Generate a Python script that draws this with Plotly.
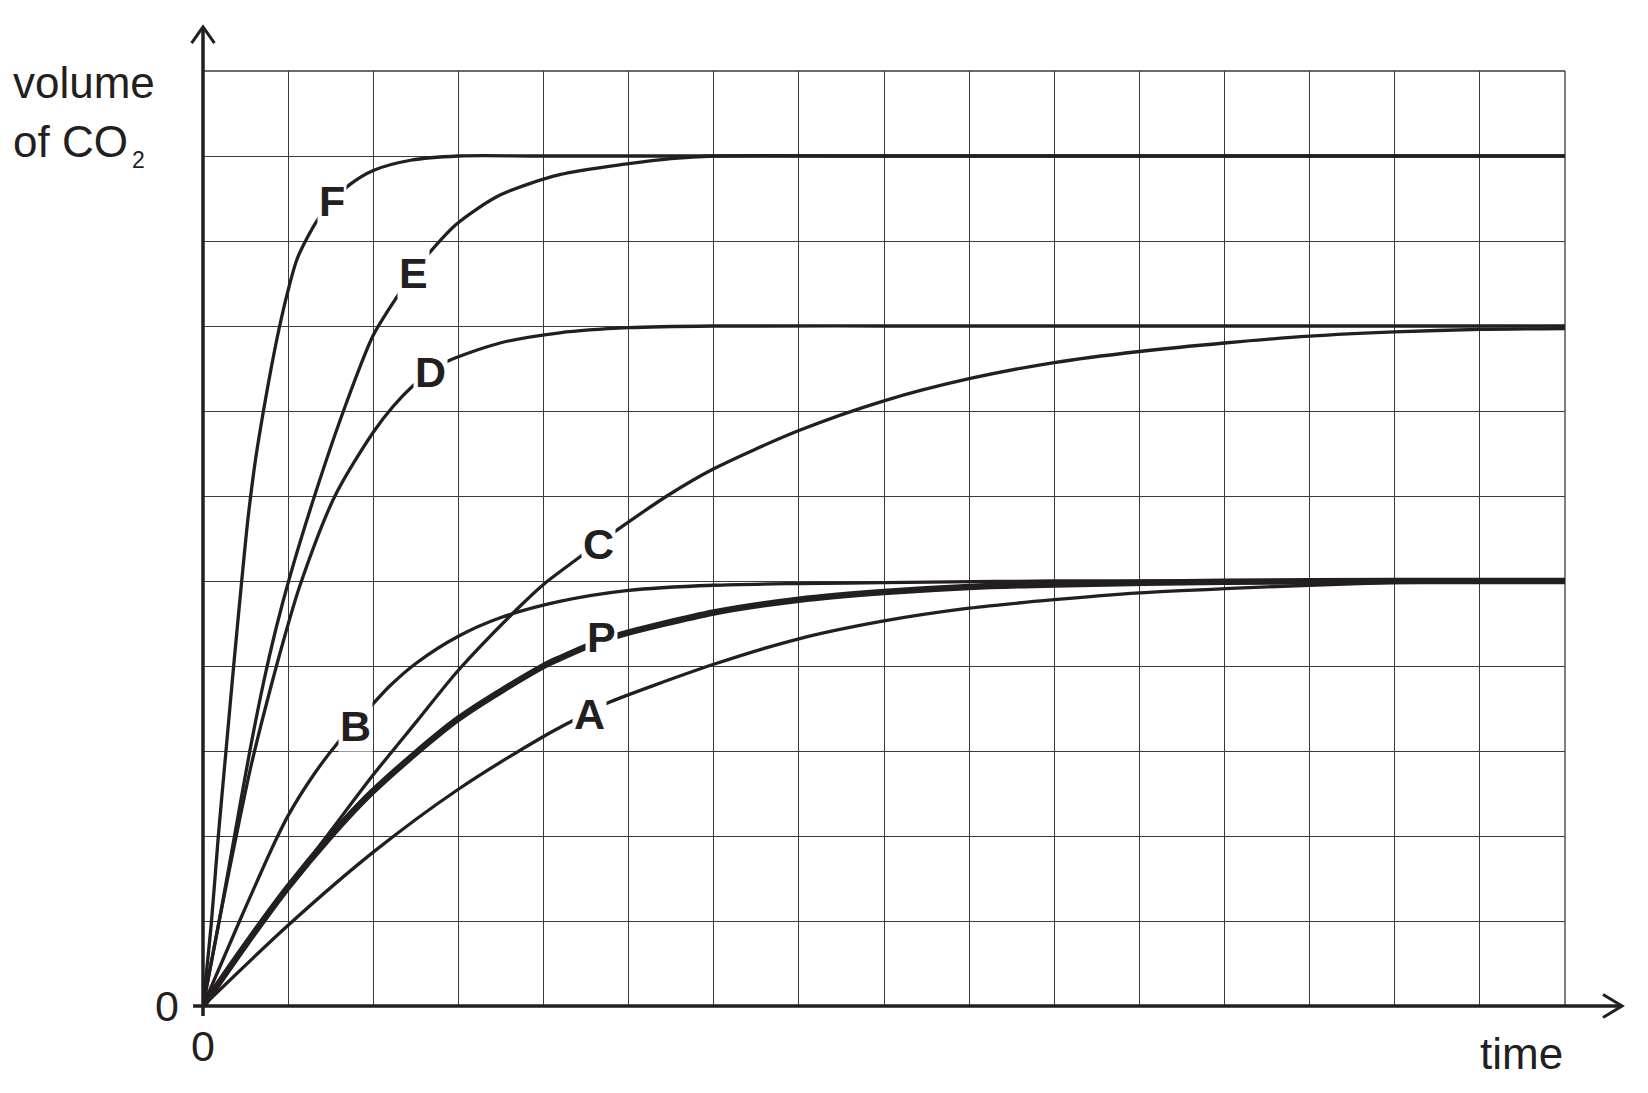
"""
plot.py
=======

Volume of CO2 against time for reactions A-F compared with the reference
reaction P. Every curve is read off the worksheet grid (1 unit = 1 square).
"""

import plotly.graph_objects as go

# ---- curve data (grid squares) -------------------------------------------
f_time = [0, 0.10, 0.18, 0.27, 0.36, 0.45, 0.53, 0.62, 0.71, 0.80, 0.89, 0.99,
          1.11, 1.34, 1.51, 1.72, 2.0, 2.44, 3.0, 4.0, 8.0, 16.0]
f_vol = [0, 1, 2, 3, 4, 4.95, 5.75, 6.45, 7.0, 7.5, 7.95, 8.38,
         8.8, 9.24, 9.45, 9.66, 9.83, 9.95, 10.0, 10.0, 10.0, 10.0]

e_time = [0, 0.19, 0.37, 0.55, 0.71, 0.86, 1.02, 1.31, 1.65, 2.0, 2.29, 2.47,
          2.65, 2.98, 3.49, 4.19, 5.0, 5.5, 6.0, 8.0, 16.0]
e_vol = [0, 1, 2, 3, 3.8, 4.45, 5.05, 6.0, 7.0, 7.89, 8.36, 8.62,
         8.85, 9.2, 9.54, 9.78, 9.91, 9.97, 10.0, 10.0, 10.0]

d_time = [0, 0.19, 0.38, 0.57, 0.77, 0.96, 1.14, 1.55, 2.0, 2.23, 2.47, 2.67,
          2.86, 3.49, 4.19, 5.0, 6.0, 8.0, 16.0]
d_vol = [0, 1, 1.95, 2.85, 3.65, 4.35, 4.95, 6.0, 6.75, 7.05, 7.3, 7.46,
         7.58, 7.8, 7.92, 7.98, 8.0, 8.0, 8.0]

c_time = [0, 0.5, 1.0, 1.5, 2.0, 2.52, 3.0, 3.70, 4.0, 4.41, 4.65, 4.82, 5.45,
          6.0, 7.0, 8.0, 9.0, 10.0, 11.0, 12.0, 13.0, 14.0, 15.0, 16.0]
c_vol = [0, 0.72, 1.40, 2.06, 2.72, 3.36, 3.95, 4.68, 4.96, 5.27, 5.45, 5.57, 6.0,
         6.32, 6.77, 7.12, 7.38, 7.57, 7.70, 7.80, 7.88, 7.93, 7.96, 7.97]

b_time = [0, 0.43, 0.84, 1.0, 1.3, 1.57, 1.79, 1.93, 2.2, 2.5, 3.0, 3.5, 4.19,
          5.0, 6.0, 7.0, 8.0, 10.0, 16.0]
b_vol = [0, 1.0, 1.92, 2.24, 2.72, 3.08, 3.32, 3.48, 3.77, 4.03, 4.35, 4.57, 4.76,
         4.89, 4.95, 4.97, 4.98, 5.0, 5.0]

p_time = [0, 0.5, 1.0, 1.5, 2.0, 3.0, 4.0, 4.19, 4.68, 4.91, 6.0, 7.0, 8.0,
          9.0, 10.0, 12.0, 14.0, 16.0]
p_vol = [0, 0.72, 1.40, 2.0, 2.53, 3.38, 4.0, 4.09, 4.30, 4.37, 4.63, 4.78, 4.87,
         4.93, 4.96, 4.99, 5.0, 5.0]

a_time = [0, 1.0, 2.0, 3.0, 4.0, 4.33, 4.54, 4.74, 6.0, 7.0, 8.0, 9.0, 10.0,
          11.0, 12.0, 13.0, 14.0, 16.0]
a_vol = [0, 0.95, 1.81, 2.55, 3.17, 3.35, 3.46, 3.56, 4.02, 4.32, 4.53, 4.68, 4.78,
         4.86, 4.91, 4.95, 4.98, 5.0]

# where each letter sits on its curve
label_names = ["F", "E", "D", "C", "B", "P", "A"]
label_time = [1.51, 2.47, 2.67, 4.65, 1.79, 4.68, 4.54]
label_vol = [9.47, 8.62, 7.46, 5.43, 3.30, 4.34, 3.44]

# axis ticks: one square per unit, only the origin is labelled
time_ticks = list(range(0, 17))
vol_ticks = list(range(0, 12))
time_ticktext = ["0"] + [""] * 16
vol_ticktext = ["0"] + [""] * 11

INK = "#231f20"
GRID = "#3a3a3a"
FONT = "Liberation Sans, Arial, sans-serif"

fig = go.Figure()

curves = [
    (a_time, a_vol, 3.3),
    (b_time, b_vol, 3.3),
    (c_time, c_vol, 3.3),
    (d_time, d_vol, 3.3),
    (e_time, e_vol, 3.3),
    (f_time, f_vol, 3.3),
    (p_time, p_vol, 6.5),  # reference reaction drawn heavier
]
for t, v, w in curves:
    fig.add_trace(
        go.Scatter(
            x=t,
            y=v,
            mode="lines",
            line=dict(color=INK, width=w, shape="spline", smoothing=0.8),
            hoverinfo="skip",
            showlegend=False,
        )
    )

# curve letters, white box so the line breaks round them
for name, t, v in zip(label_names, label_time, label_vol):
    fig.add_annotation(
        x=t, y=v, xref="x", yref="y", text=f"<b>{name}</b>", showarrow=False,
        font=dict(family=FONT, size=43, color=INK),
        bgcolor="white", borderpad=1,
    )

# axis titles
title_font = dict(family=FONT, size=44, color=INK)
fig.add_annotation(x=-0.141, y=0.9872, xref="paper", yref="paper", text="volume",
                   showarrow=False, xanchor="left", yanchor="middle", font=title_font)
fig.add_annotation(x=-0.141, y=0.9251, xref="paper", yref="paper", text="of CO",
                   showarrow=False, xanchor="left", yanchor="middle", font=title_font)
fig.add_annotation(x=-0.0535, y=0.9048, xref="paper", yref="paper", text="2",
                   showarrow=False, xanchor="left", yanchor="middle",
                   font=dict(family=FONT, size=23, color=INK))
fig.add_annotation(x=1.0, y=-0.0513, xref="paper", yref="paper", text="time",
                   showarrow=False, xanchor="right", yanchor="middle", font=title_font)

# axes with arrow heads, plus the grid border on top and right
axis = dict(type="line", xref="paper", yref="paper", line=dict(color=INK, width=3.5))
fig.add_shape(x0=0, y0=-0.0107, x1=0, y1=1.046, **axis)
fig.add_shape(x0=-0.0073, y0=0, x1=1.041, y1=0, **axis)
fig.add_shape(type="path", xref="paper", yref="paper",
              path="M -0.0084,1.0299 L 0,1.0471 L 0.0084,1.0299",
              line=dict(color=INK, width=3))
fig.add_shape(type="path", xref="paper", yref="paper",
              path="M 1.0279,0.0123 L 1.0419,0 L 1.0279,-0.0123",
              line=dict(color=INK, width=3))
border = dict(type="line", xref="paper", yref="paper", line=dict(color=GRID, width=1.3),
              layer="below")
fig.add_shape(x0=0, y0=1, x1=1, y1=1, **border)
fig.add_shape(x0=1, y0=0, x1=1, y1=1, **border)

# the page body keeps an 8px margin, so the figure is 16px smaller than the window
fig.update_layout(
    width=1632,
    height=1077,
    margin=dict(l=195, r=75, t=63, b=79),
    paper_bgcolor="white",
    plot_bgcolor="white",
    showlegend=False,
    xaxis=dict(
        range=[0, 16], tickmode="array", tickvals=time_ticks, ticktext=time_ticktext,
        ticks="", showgrid=True, gridcolor=GRID, gridwidth=1.3, zeroline=False,
        showline=False, tickfont=dict(family=FONT, size=43, color=INK),
        ticklabelstandoff=11, fixedrange=True,
    ),
    yaxis=dict(
        range=[0, 11], tickmode="array", tickvals=vol_ticks, ticktext=vol_ticktext,
        ticks="", showgrid=True, gridcolor=GRID, gridwidth=1.3, zeroline=False,
        showline=False, tickfont=dict(family=FONT, size=43, color=INK),
        ticklabelstandoff=23, fixedrange=True,
    ),
)

fig.write_html("out.html")
